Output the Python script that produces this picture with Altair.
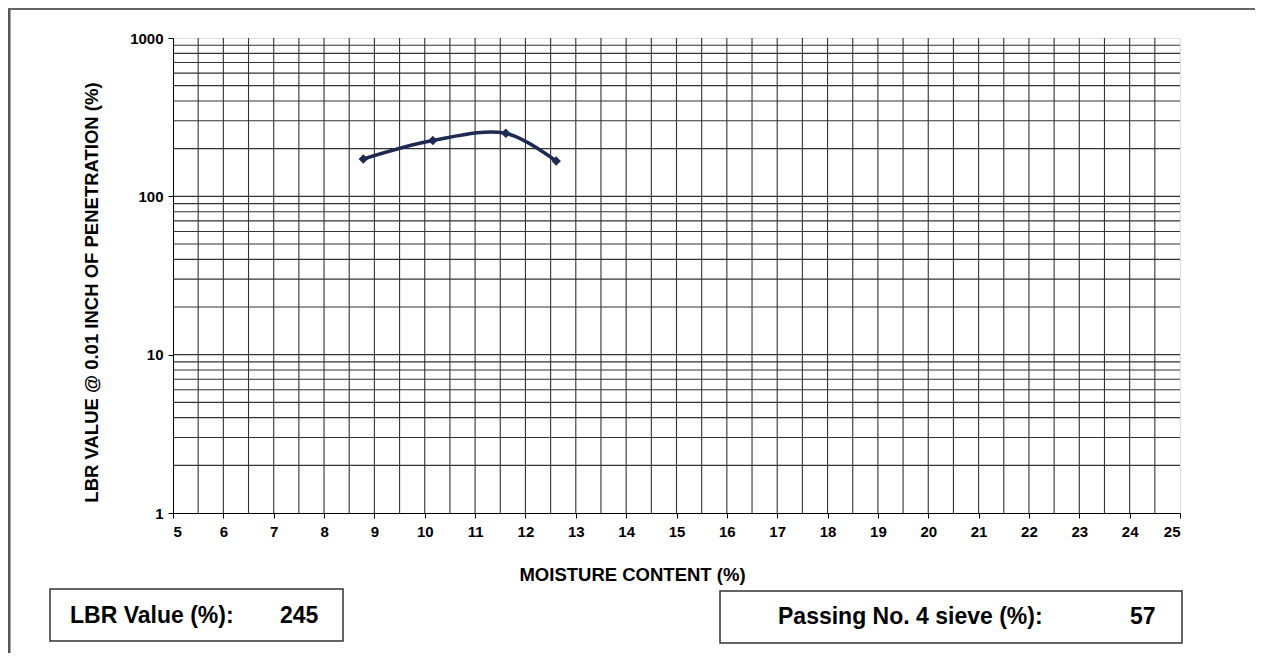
import altair as alt
import pandas as pd

# ---- data ----
moisture = [8.78, 10.16, 11.61, 12.61]
lbr = [172, 225, 250, 167]

x_ticks = list(range(5, 26))
x_grid = [5 + 0.5 * i for i in range(1, 40)]
y_ticks = [1, 10, 100, 1000]
y_grid = [m * d for d in (1, 10, 100) for m in range(2, 10)] + [10, 100]

lbr_value = 245
passing_no4 = 57

W, H = 1007, 475
FONT = "Liberation Sans"
INK = "#1f2a52"
GRID = "#333333"

df = pd.DataFrame({"m": moisture, "v": lbr})
xs = alt.Scale(domain=[5, 25], nice=False, zero=False)
ys = alt.Scale(type="log", domain=[1, 1000], nice=False)

common = dict(grid=False, labelFontWeight="bold", labelFontSize=15, labelFont=FONT, titleFont=FONT,
              titleFontSize=18.5, titleFontWeight="bold", titleColor="black", labelColor="black",
              domainColor="black", tickColor="black", tickSize=5)
xaxis = alt.Axis(values=x_ticks, title="MOISTURE CONTENT (%)", titleX=459, titleY=61,
                 titleAlign="center", titleBaseline="middle", labelPadding=6, **common)
yaxis = alt.Axis(values=y_ticks, format="d", title="LBR VALUE @ 0.01 INCH OF PENETRATION (%)",
                 titleX=-82, titleY=254, titleAngle=-90, titleAlign="center", titleBaseline="middle",
                 labelPadding=5, **common)

vgrid = alt.Chart(pd.DataFrame({"g": x_grid})).mark_rule(color=GRID, strokeWidth=1.1).encode(
    x=alt.X("g:Q", scale=xs, axis=xaxis)
)
hgrid = alt.Chart(pd.DataFrame({"g": y_grid})).mark_rule(color=GRID, strokeWidth=1.1).encode(
    y=alt.Y("g:Q", scale=ys, axis=yaxis)
)

line = alt.Chart(df).mark_line(color=INK, strokeWidth=3.5, interpolate="catmull-rom").encode(
    x=alt.X("m:Q", scale=xs, axis=xaxis),
    y=alt.Y("v:Q", scale=ys, axis=yaxis),
)
pts = alt.Chart(df).mark_point(shape="diamond", filled=True, color=INK, size=90, opacity=1).encode(
    x=alt.X("m:Q", scale=xs, axis=xaxis),
    y=alt.Y("v:Q", scale=ys, axis=yaxis),
)

one = pd.DataFrame({"k": [0]})
box1 = alt.Chart(one).mark_rect(fill="white", stroke="#333", strokeWidth=1.5).encode(
    x=alt.value(-123), x2=alt.value(170), y=alt.value(551), y2=alt.value(603))
box2 = alt.Chart(one).mark_rect(fill="white", stroke="#333", strokeWidth=1.5).encode(
    x=alt.value(547), x2=alt.value(1009), y=alt.value(553), y2=alt.value(605))


def label(txt, x, y):
    return alt.Chart(one).mark_text(align="left", baseline="middle", font=FONT, fontSize=23,
                                    fontWeight="bold", color="black").encode(
        x=alt.value(x), y=alt.value(y), text=alt.value(txt))


t1 = label("LBR Value (%):", -103, 578)
t2 = label(str(lbr_value), 107, 578)
t3 = label("Passing No. 4 sieve (%):", 605, 579)
t4 = label(str(passing_no4), 957, 579)

frame_left = alt.Chart(one).mark_rule(color="#555", strokeWidth=3).encode(
    x=alt.value(-164), y=alt.value(-30), y2=alt.value(625))
frame_top = alt.Chart(one).mark_rule(color="#666", strokeWidth=2).encode(
    x=alt.value(-165), x2=alt.value(1082), y=alt.value(-29))

chart = alt.layer(vgrid, hgrid, line, pts, box1, box2, t1, t2, t3, t4, frame_left, frame_top).properties(
    width=W, height=H,
    autosize=alt.AutoSizeParams(type="none"),
    padding={"left": 165, "top": 30, "right": 75, "bottom": 140},
).configure_view(stroke="black", strokeWidth=1.5).configure(background="white")

chart.save("out.html", embed_options={"renderer": "svg", "actions": False})
